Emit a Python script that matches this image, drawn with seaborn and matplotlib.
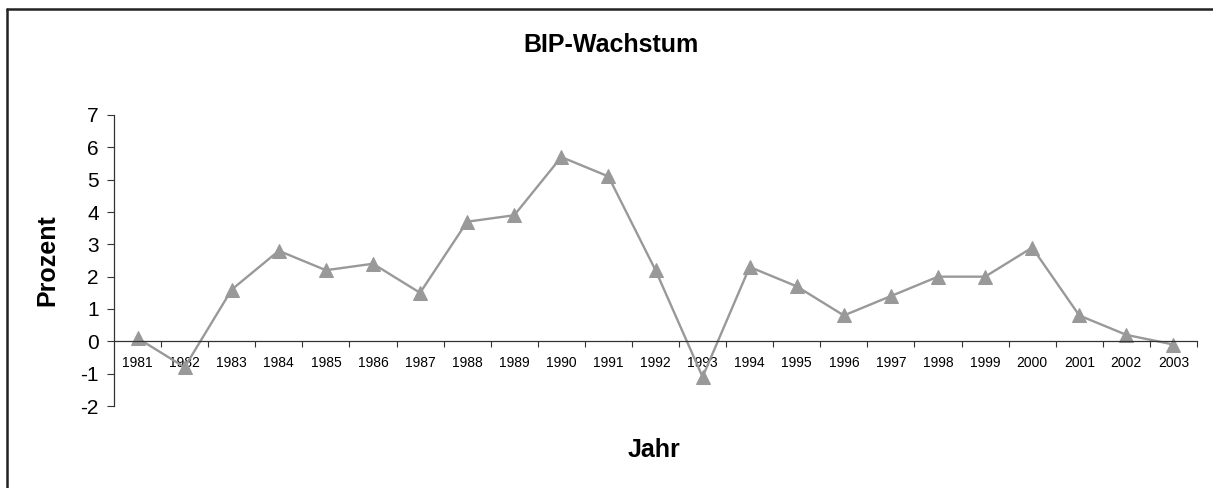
import numpy as np
import pandas as pd
import seaborn as sns
import matplotlib.pyplot as plt
from matplotlib.lines import Line2D
from matplotlib.ticker import FixedLocator

years = [str(y) for y in range(1981, 2004)]
growth = [0.1, -0.8, 1.6, 2.8, 2.2, 2.4, 1.5, 3.7, 3.9, 5.7, 5.1, 2.2, -1.1,
          2.3, 1.7, 0.8, 1.4, 2.0, 2.0, 2.9, 0.8, 0.2, -0.1]
yticks = list(range(-2, 8))

df = pd.DataFrame({"Jahr": years, "Prozent": growth})

sns.set_style("white")
plt.rcParams['font.family'] = ['Liberation Sans', 'DejaVu Sans']
plt.rcParams['axes.unicode_minus'] = False
plt.rcParams['text.color'] = 'black'
plt.rcParams['xtick.color'] = 'black'
plt.rcParams['ytick.color'] = 'black'

W, H = 1213, 488
fig = plt.figure(figsize=(W / 100, H / 100), dpi=100)
ax = fig.add_axes([114 / W, 1 - 406 / H, (1197 - 114) / W, (406 - 115) / H])

sns.lineplot(data=df, x="Jahr", y="Prozent", ax=ax, sort=False,
             color="#999999", linewidth=1.7, marker="^", markersize=10.5,
             markeredgecolor="#999999")

ax.set_xlim(-0.5, len(years) - 0.5)
ax.set_ylim(-2, 7)
ax.set_yticks(yticks)
ax.tick_params(axis="y", labelsize=15, length=5, width=0.8, color="#333333",
               direction="out", left=True, pad=6)

# x axis sits on the zero line, ticks between categories
ax.spines["bottom"].set_position(("data", 0))
for s in ["top", "right"]:
    ax.spines[s].set_visible(False)
for s in ["left", "bottom"]:
    ax.spines[s].set_color("#333333")
    ax.spines[s].set_linewidth(0.9)
ax.set_xticks(range(len(years)))
ax.set_xticklabels(years)
ax.tick_params(axis="x", which="major", length=0, labelsize=10, pad=10.5)
ax.xaxis.set_minor_locator(FixedLocator(np.arange(0.5, len(years), 1.0)))
ax.tick_params(axis="x", which="minor", length=4, width=0.8, color="#333333",
               direction="out", bottom=True)
ax.set_xlabel("")
ax.set_ylabel("")

fig.text(611 / W, 1 - 52 / H, "BIP-Wachstum", ha="center", va="baseline",
         fontsize=18, fontweight="bold")
fig.text(654 / W, 1 - 457 / H, "Jahr", ha="center", va="baseline",
         fontsize=18, fontweight="bold")
fig.text(47 / W, 1 - 260 / H, "Prozent", ha="center", va="center", rotation=90,
         fontsize=18, fontweight="bold")

# frame: top and left edges only
fig.add_artist(Line2D([7 / W, 1.0], [1 - 9 / H, 1 - 9 / H], transform=fig.transFigure,
                      color="#222222", linewidth=1.8))
fig.add_artist(Line2D([7 / W, 7 / W], [0.0, 1 - 9 / H], transform=fig.transFigure,
                      color="#222222", linewidth=1.8))

fig.savefig("out.png", dpi=100)
